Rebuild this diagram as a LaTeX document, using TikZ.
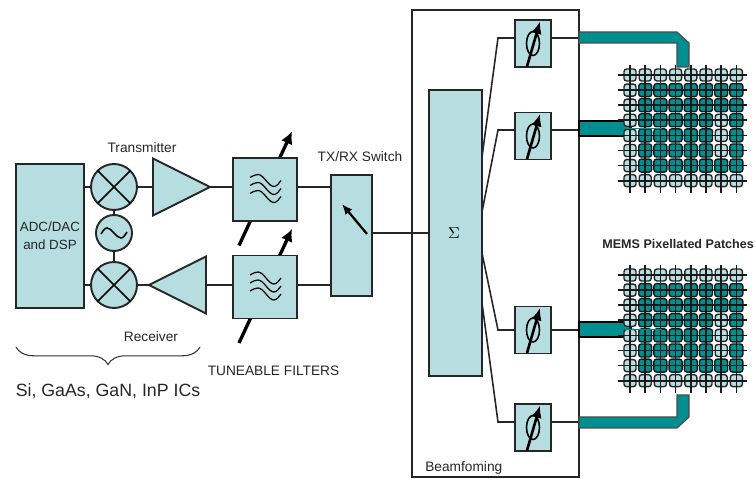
\documentclass[tikz,border=0pt]{standalone}
\usepackage{fontspec}
\setmainfont{Liberation Sans}
\usetikzlibrary{shapes.geometric,decorations.pathreplacing,arrows.meta}
\definecolor{boxfill}{HTML}{B6DEE0}
\definecolor{busteal}{HTML}{008F8F}
\def\px{0.02cm}
\tikzset{
  block/.style={draw=black!85, line width=1.1pt, fill=boxfill, inner sep=0pt, outer sep=0pt},
  mixer/.style={block, circle, minimum size=46*\px},
  amp/.style={block, isosceles triangle, isosceles triangle stretches, minimum width=57*\px, minimum height=57*\px, inner sep=0pt},
  wire/.style={black!85, line width=0.9pt},
  tune/.style={black, line width=1.9pt, -{Latex[length=7pt,width=7pt]}},
  bus/.style={draw=black!70, line width=0.7pt, fill=busteal},
  label/.style={font=\fontsize{7.8}{9}\selectfont, text=black!85, inner sep=0pt},
  lightpatch/.style={draw=black!85, line width=0.8pt, fill=boxfill, rounded corners=1.5pt, minimum size=12*\px, inner sep=0pt},
  tealpatch/.style={draw=black!90, line width=0.8pt, fill=busteal, rounded corners=1.5pt, minimum size=13*\px, inner sep=0pt},
  gridline/.style={black!90, line width=1pt}
}
% tuneable filter, three waves and the tuning arrow are drawn behind/over the box
\newcommand{\filterblock}[2]{
  \draw[tune] (239,#2+56) -- (292,#2-58);
  \node[block, minimum width=64*\px, minimum height=63*\px] (#1) at (265,#2) {};
  \foreach \dy in {-8,0,8}
    \draw[black, line width=0.7pt] (250,#2+\dy-4) sin (258,#2+\dy-7) cos (266,#2+\dy-1) sin (274,#2+\dy+5) cos (281,#2+\dy-1);
}
% phase shifter box
\newcommand{\shifterblock}[2]{
  \node[block, minimum width=36*\px, minimum height=47*\px] (#1) at (533,#2) {};
  \draw[black, line width=0.9pt] (533,#2) ellipse (6.5 and 12);
  \draw[black, line width=1.5pt, -{Latex[length=7pt,width=6pt]}] (527,#2+23) -- (540,#2-22);
}
% 8 x 8 patch array
\newcommand{\patchgrid}[2]{
  \begin{scope}[yshift=#2*-\px]
    \foreach \i in {1,...,8} {
      \foreach \j in {1,...,8} {
        \pgfmathtruncatemacro{\isteal}{(\i>1 && \j>1 && \j<8 && !(\i==7 && \j>3 && \j<7)) ? 1 : 0}
        \ifnum\isteal=1
          \node[tealpatch] (#1\i\j) at (630+15.2*\i-15.2,15.1*\j-15.1) {};
        \else
          \node[lightpatch] (#1\i\j) at (630+15.2*\i-15.2,15.1*\j-15.1) {};
        \fi
      }
    }
    \foreach \k in {1,...,8} {
      \draw[gridline] (618,15.1*\k-15.1) -- (747,15.1*\k-15.1);
      \draw[gridline] (630+15.2*\k-15.2,-10) -- (630+15.2*\k-15.2,118);
    }
  \end{scope}
}
\begin{document}
\begin{tikzpicture}[x=0.02cm,y=-0.02cm]
  \useasboundingbox (0,0) rectangle (755,479);

  \node[block, minimum width=68*\px, minimum height=144*\px, align=center, font=\fontsize{7.6}{10}\selectfont, text=black!85] (dsp) at (50,236) {ADC/DAC\\and DSP};
  \node[mixer] (mixtx) at (114,187) {};
  \node[mixer] (mixrx) at (114,285) {};
  \node[block, circle, minimum size=36*\px] (osc) at (114,233) {};
  \draw[black, line width=0.9pt] (mixtx.45) -- (mixtx.225) (mixtx.135) -- (mixtx.315);
  \draw[black, line width=0.9pt] (mixrx.45) -- (mixrx.225) (mixrx.135) -- (mixrx.315);
  \draw[black, line width=0.9pt] (101,234) sin (107,228) cos (114,233) sin (121,238) cos (127,232);
  \node[amp, anchor=apex] (amptx) at (210,187) {};
  \node[amp, anchor=apex, shape border rotate=180] (amprx) at (149,285) {};

  \filterblock{filtx}{189.5}
  \filterblock{filrx}{287}
  \node[block, minimum width=41*\px, minimum height=121*\px] (switch) at (351.5,235.5) {};
  \draw[black, line width=1.3pt, -{Latex[length=6pt,width=5pt]}] (367,234) -- (342,204);

  \node[draw=black!85, line width=1.2pt, fill=white, minimum width=167*\px, minimum height=467*\px, inner sep=0pt, outer sep=0pt] (beam) at (495.5,243.5) {};
  \node[block, minimum width=53*\px, minimum height=286*\px] (sigma) at (455.5,233) {};
  \node[font=\small] at (454,233) {$\Sigma$};
  \shifterblock{psa}{43.5}
  \shifterblock{psb}{136}
  \shifterblock{psc}{330}
  \shifterblock{psd}{427.5}

  \draw[wire] (dsp.east |- mixtx) -- (mixtx);
  \draw[wire] (dsp.east |- mixrx) -- (mixrx);
  \draw[wire] (mixtx) -- (osc);
  \draw[wire] (osc) -- (mixrx);
  \draw[wire] (mixtx) -- (amptx.lower side);
  \draw[wire] (mixrx) -- (amprx.apex);
  \draw[wire] (amptx.apex) -- (filtx.west |- amptx.apex);
  \draw[wire] (amprx.lower side) -- (filrx.west |- amprx.lower side);
  \draw[wire] (filtx.east |- amptx.apex) -- (switch.west |- amptx.apex);
  \draw[wire] (filrx.east |- amprx.lower side) -- (switch.west |- amprx.lower side);
  \draw[wire] (switch.east |- sigma) -- (sigma);

  \foreach \n/\ya/\yb in {psa/157/38, psb/212/130, psc/253/330, psd/303/422} {
    \coordinate (\n in) at (482,\ya);
    \coordinate (\n bend) at (498,\yb);
    \draw[wire] (\n in) -- (\n bend) -- (\n.west |- \n bend);
    \draw[wire] (\n.east |- \n bend) -- (beam.east |- \n bend);
  }

  \draw[bus] (579,32) -- (677,32) -- (689,43) -- (689,67) -- (677,67) -- (677,43) -- (579,43) -- cycle;
  \draw[bus, draw=black] (579,121) rectangle (631,136);
  \draw[bus, draw=black] (579,322) rectangle (631,337);
  \draw[bus] (579,417) -- (677,417) -- (677,395) -- (689,395) -- (689,417) -- (677,428) -- (579,428) -- cycle;

  \patchgrid{pu}{75}
  \patchgrid{pl}{275}
  \draw[busteal, line width=1pt] (625,128.5) -- (662,128.5);
  \draw[busteal, line width=1pt] (625,329.5) -- (662,329.5);

  \node[label] at (142,148) {Transmitter};
  \node[label] at (151,337) {Receiver};
  \node[label] at (273.5,371) {TUNEABLE FILTERS};
  \node[label] at (360,157) {TX/RX Switch};
  \node[label, font=\bfseries\fontsize{7.15}{9}\selectfont, anchor=west] at (602,244) {MEMS Pixellated Patches};
  \node[label, anchor=west] at (425,468) {Beamfoming};
  \node[label, font=\fontsize{10.1}{12}\selectfont] at (108,391) {Si, GaAs, GaN, InP ICs};

  \coordinate (bracel) at (16,347);
  \coordinate (bracer) at (200,347);
  \draw[black!80, line width=0.6pt, decorate, decoration={brace, mirror, amplitude=10pt}] (bracel) -- (bracer);
\end{tikzpicture}
\end{document}
